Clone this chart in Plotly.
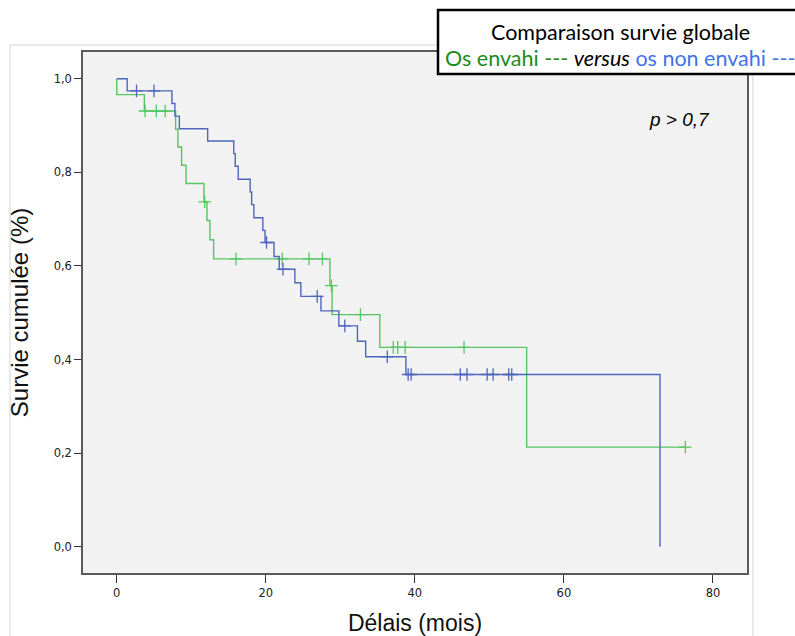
import plotly.graph_objects as go

# ---------------- data ----------------
# Os envahi (green): event times (months) and survival after each step
green_times = [0, 0, 3.7, 7.9, 8.2, 8.7, 9.3, 11.7, 12.1, 12.5, 13.0, 28.6, 28.9, 35.3, 55.0]
green_surv = [1.0, 0.966, 0.931, 0.892, 0.854, 0.815, 0.776, 0.737, 0.697, 0.656, 0.615, 0.558, 0.496, 0.426, 0.213]
green_censored = [3.8, 5.3, 6.5, 11.8, 16.0, 22.2, 25.8, 27.6, 28.8, 32.7, 37.1, 37.7, 38.7, 46.6, 76.3]

# Os non envahi (blue)
blue_times = [0, 1.4, 7.4, 7.8, 8.4, 12.2, 15.7, 15.9, 16.3, 17.9, 18.1, 18.4, 19.6, 19.9,
              21.1, 21.8, 23.9, 24.7, 27.4, 29.8, 32.3, 33.4, 38.8, 72.9]
blue_surv = [1.0, 0.974, 0.947, 0.920, 0.893, 0.867, 0.840, 0.813, 0.785, 0.758, 0.731, 0.703, 0.676, 0.650,
             0.620, 0.593, 0.564, 0.535, 0.504, 0.472, 0.439, 0.406, 0.368, 0.0]
blue_censored = [2.65, 5.0, 20.1, 22.3, 26.9, 30.6, 36.3, 39.1, 39.5, 46.1, 47.0, 49.7, 50.5, 52.6, 53.0]

x_tickvals = [0, 20, 40, 60, 80]
x_ticktext = ["0", "20", "40", "60", "80"]
y_tickvals = [0.0, 0.2, 0.4, 0.6, 0.8, 1.0]
y_ticktext = ["0,0", "0,2", "0,4", "0,6", "0,8", "1,0"]

GREEN = "#55c663"
BLUE = "#4f66bd"


def km_at(times, surv, t):
    val = surv[0]
    for ti, si in zip(times, surv):
        if ti <= t:
            val = si
    return val


def line_xy(times, surv, censored):
    xs, ys = list(times), list(surv)
    last = max(censored)
    if last > xs[-1]:
        xs.append(last)
        ys.append(ys[-1])
    return xs, ys


fig = go.Figure()

for times, surv, cens, col in [(green_times, green_surv, green_censored, GREEN),
                               (blue_times, blue_surv, blue_censored, BLUE)]:
    xs, ys = line_xy(times, surv, cens)
    fig.add_trace(go.Scatter(x=xs, y=ys, mode="lines", line=dict(shape="hv", color=col, width=1.4),
                             hoverinfo="skip", showlegend=False))
    fig.add_trace(go.Scatter(x=cens, y=[km_at(times, surv, c) for c in cens], mode="markers",
                             marker=dict(symbol="cross-thin", size=9, line=dict(width=1.3, color=col)),
                             hoverinfo="skip", showlegend=False))

# geometry helpers (pixel -> paper) for decorations
L, R, T, B = 83, 747, 52, 573
W, H = R - L, B - T


def px(x):
    return (x - L) / W


def py(y):
    return (B - y) / H


fig.update_layout(
    width=795, height=636,
    margin=dict(l=L, r=795 - R, t=T, b=636 - B),
    paper_bgcolor="white",
    plot_bgcolor="#f2f2f2",
    font=dict(family="Liberation Sans, Arial, sans-serif", color="#222"),
    xaxis=dict(range=[-4.53, 84.57], tickvals=x_tickvals, ticktext=x_ticktext,
               showgrid=False, zeroline=False, showline=True, mirror=True,
               linecolor="#5a5a5a", linewidth=1.5, ticks="outside", ticklen=8, tickcolor="#333",
               tickfont=dict(family="DejaVu Sans", size=11.5, color="#222"),
               title=dict(text="Délais (mois)", font=dict(size=23, color="#111"), standoff=16),
               automargin=False),
    yaxis=dict(range=[-0.056, 1.057], tickvals=y_tickvals, ticktext=y_ticktext,
               showgrid=False, zeroline=False, showline=True, mirror=True,
               linecolor="#5a5a5a", linewidth=1.5, ticks="outside", ticklen=7, tickcolor="#333",
               tickfont=dict(family="DejaVu Sans", size=11.5, color="#222"),
               title=dict(text="Survie cumulée (%)", font=dict(size=24, color="#111"), standoff=18),
               automargin=False),
    shapes=[
        dict(type="rect", xref="paper", yref="paper", x0=px(10), x1=px(753), y0=py(660), y1=py(45),
             line=dict(color="#d4d4d4", width=1), fillcolor="rgba(0,0,0,0)", layer="below"),
        dict(type="rect", xref="paper", yref="paper", x0=px(438), x1=px(810), y0=py(74), y1=py(10),
             line=dict(color="black", width=2.5), fillcolor="white", layer="above"),
    ],
    annotations=[
        dict(xref="paper", yref="paper", x=px(620), y=py(32), text="Comparaison survie globale",
             showarrow=False, xanchor="center", yanchor="middle",
             font=dict(family="Lato, Open Sans, sans-serif", size=21.5, color="black")),
        dict(xref="paper", yref="paper", x=px(620), y=py(58), showarrow=False,
             xanchor="center", yanchor="middle",
             text="<span style='color:#1c8a1c'>Os envahi ---</span> <i>versus</i> "
                  "<span style='color:#4272ee'>os non envahi ---</span>",
             font=dict(family="Lato, Open Sans, sans-serif", size=21.5, color="black")),
        dict(xref="paper", yref="paper", x=px(679), y=py(120), text="<i>p > 0,7</i>",
             showarrow=False, xanchor="center", yanchor="middle",
             font=dict(family="Liberation Sans, Arial, sans-serif", size=19, color="black")),
    ],
)

fig.write_html("out.html", config={"displayModeBar": False},
               post_script="document.body.style.margin='0';document.body.style.overflow='hidden';")
